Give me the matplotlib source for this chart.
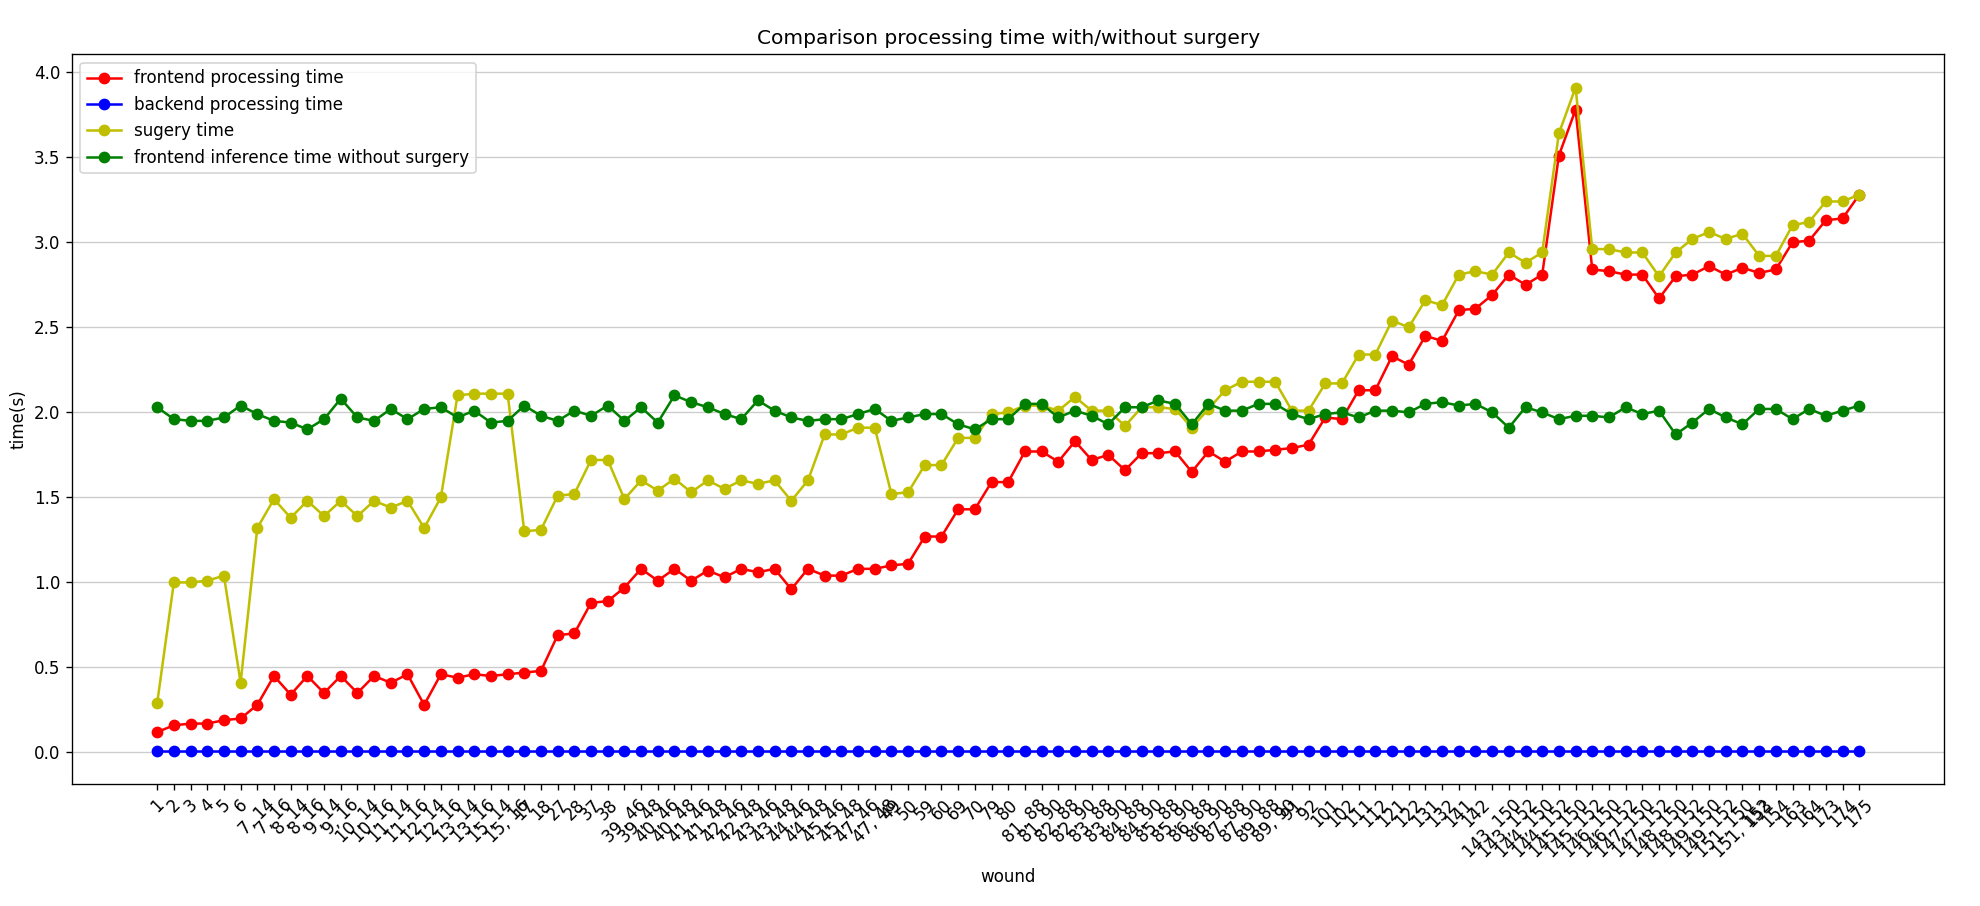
import matplotlib
matplotlib.use("Agg")
import matplotlib.pyplot as plt

# x tick labels (wound ids)
wounds = [
    "1", "2", "3", "4", "5", "6",
    "7, 14", "7, 16", "8, 14", "8, 16", "9, 14", "9, 16", "10, 14", "10, 16",
    "11, 14", "11, 16", "12, 14", "12, 16", "13, 14", "13, 16", "15, 14", "15, 16",
    "17", "18", "27", "28", "37", "38",
    "39, 46", "39, 48", "40, 46", "40, 48", "41, 46", "41, 48", "42, 46", "42, 48",
    "43, 46", "43, 48", "44, 46", "44, 48", "45, 46", "45, 48", "47, 46", "47, 48",
    "49", "50", "59", "60", "69", "70", "79", "80",
    "81, 88", "81, 90", "82, 88", "82, 90", "83, 88", "83, 90", "84, 88", "84, 90",
    "85, 88", "85, 90", "86, 88", "86, 90", "87, 88", "87, 90", "89, 88", "89, 90",
    "91", "92", "101", "102", "111", "112", "121", "122", "131", "132", "141", "142",
    "143, 150", "143, 152", "144, 150", "144, 152", "145, 150", "145, 152",
    "146, 150", "146, 152", "147, 150", "147, 152", "148, 150", "148, 152",
    "149, 150", "149, 152", "151, 150", "151, 152",
    "153", "154", "163", "164", "173", "174", "175",
]

frontend = [
    0.12, 0.16, 0.17, 0.17, 0.19, 0.20, 0.28, 0.45, 0.34, 0.45, 0.35, 0.45, 0.35, 0.45,
    0.41, 0.46, 0.28, 0.46, 0.44, 0.46, 0.45, 0.46, 0.47, 0.48, 0.69, 0.70, 0.88, 0.89,
    0.97, 1.08, 1.01, 1.08, 1.01, 1.07, 1.03, 1.08, 1.06, 1.08, 0.96, 1.08, 1.04, 1.04,
    1.08, 1.08, 1.10, 1.11, 1.27, 1.27, 1.43, 1.43, 1.59, 1.59, 1.77, 1.77, 1.71, 1.83,
    1.72, 1.75, 1.66, 1.76, 1.76, 1.77, 1.65, 1.77, 1.71, 1.77, 1.77, 1.78, 1.79, 1.81,
    1.97, 1.96, 2.13, 2.13, 2.33, 2.28, 2.45, 2.42, 2.60, 2.61, 2.69, 2.81, 2.75, 2.81,
    3.51, 3.78, 2.84, 2.83, 2.81, 2.81, 2.67, 2.80, 2.81, 2.86, 2.81, 2.85, 2.82, 2.84,
    3.00, 3.01, 3.13, 3.14, 3.28,
]

backend = [0.01] * len(wounds)

surgery = [
    0.29, 1.00, 1.00, 1.01, 1.04, 0.41, 1.32, 1.49, 1.38, 1.48, 1.39, 1.48, 1.39, 1.48,
    1.44, 1.48, 1.32, 1.50, 2.10, 2.11, 2.11, 2.11, 1.30, 1.31, 1.51, 1.52, 1.72, 1.72,
    1.49, 1.60, 1.54, 1.61, 1.53, 1.60, 1.55, 1.60, 1.58, 1.60, 1.48, 1.60, 1.87, 1.87,
    1.91, 1.91, 1.52, 1.53, 1.69, 1.69, 1.85, 1.85, 1.99, 2.00, 2.04, 2.04, 2.01, 2.09,
    2.01, 2.01, 1.92, 2.03, 2.03, 2.02, 1.91, 2.02, 2.13, 2.18, 2.18, 2.18, 2.01, 2.01,
    2.17, 2.17, 2.34, 2.34, 2.54, 2.50, 2.66, 2.63, 2.81, 2.83, 2.81, 2.94, 2.88, 2.94,
    3.64, 3.91, 2.96, 2.96, 2.94, 2.94, 2.80, 2.94, 3.02, 3.06, 3.02, 3.05, 2.92, 2.92,
    3.10, 3.12, 3.24, 3.24, 3.28,
]

no_surgery = [
    2.03, 1.96, 1.95, 1.95, 1.97, 2.04, 1.99, 1.95, 1.94, 1.90, 1.96, 2.08, 1.97, 1.95,
    2.02, 1.96, 2.02, 2.03, 1.97, 2.01, 1.94, 1.95, 2.04, 1.98, 1.95, 2.01, 1.98, 2.04,
    1.95, 2.03, 1.94, 2.10, 2.06, 2.03, 1.99, 1.96, 2.07, 2.01, 1.97, 1.95, 1.96, 1.96,
    1.99, 2.02, 1.95, 1.97, 1.99, 1.99, 1.93, 1.90, 1.96, 1.96, 2.05, 2.05, 1.97, 2.01,
    1.98, 1.93, 2.03, 2.03, 2.07, 2.05, 1.93, 2.05, 2.01, 2.01, 2.05, 2.05, 1.99, 1.96,
    1.99, 2.00, 1.97, 2.01, 2.01, 2.00, 2.05, 2.06, 2.04, 2.05, 2.00, 1.91, 2.03, 2.00,
    1.96, 1.98, 1.98, 1.97, 2.03, 1.99, 2.01, 1.87, 1.94, 2.02, 1.97, 1.93, 2.02, 2.02,
    1.96, 2.02, 1.98, 2.01, 2.04,
]

DPI = 121
fig = plt.figure(figsize=(1980 / DPI, 906 / DPI), dpi=DPI)
ax = fig.add_axes([0.0364, 0.1347, 0.9456, 0.8053])

ax.plot(wounds, frontend, "r-o", label="frontend processing time")
ax.plot(wounds, backend, "b-o", label="backend processing time")
ax.plot(wounds, surgery, "y-o", label="sugery time")
ax.plot(wounds, no_surgery, "g-o", label="frontend inference time without surgery")

ax.set_title("Comparison processing time with/without surgery")
ax.set_xlabel("wound")
ax.set_ylabel("time(s)")
ax.grid(axis="y", color="#cccccc")
plt.setp(ax.get_xticklabels(), rotation=45)
ax.legend(loc="upper left")

fig.savefig("out.png", dpi=DPI)
